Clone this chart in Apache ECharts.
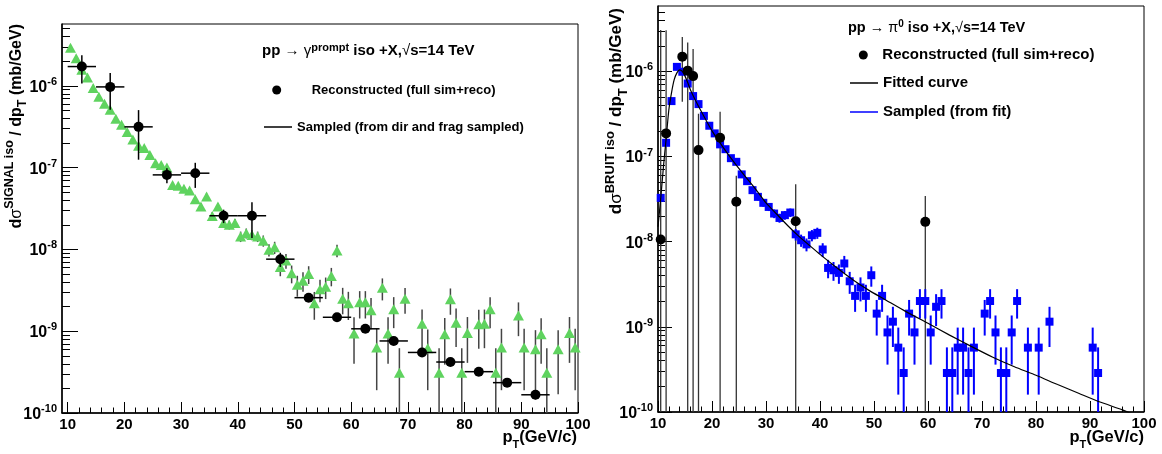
<!DOCTYPE html>
<html>
<head>
<meta charset="utf-8">
<script src="https://cdn.jsdelivr.net/npm/echarts@6/dist/echarts.min.js"></script>
<style>
html,body{margin:0;padding:0;background:#fff;}
#chart{width:1162px;height:454px;}
</style>
</head>
<body>
<div id="chart"></div>
<script>
// ---------------- DATA ----------------
// Tick labels
const xTickValues = [10, 20, 30, 40, 50, 60, 70, 80, 90, 100];
const yDecades = [-10, -9, -8, -7, -6];          // exponents of 10 shown as labels
const yMinorFactors = [2, 3, 4, 5, 6, 7, 8, 9];

// Left panel: sampled prompt photons (green triangles)
const sigPt = [10.5,11.5,12.5,13.5,14.5,15.5,16.5,17.5,18.5,19.5,20.5,21.5,22.5,23.5,24.5,25.5,26.5,27.5,28.5,29.5,
  30.5,31.5,32.5,33.5,34.5,35.5,36.5,37.5,38.5,39.5,40.5,41.5,42.5,43.5,44.5,45.5,46.5,47.5,48.5,49.5,
  50.5,51.5,52.5,53.5,54.5,55.5,56.5,57.5,58.5,59.5,60.5,61.5,62.5,63.5,64.5,65.5,66.5,67.5,68.5,69.5,
  72.5,73.5,75.5,76.5,77.5,78.5,79.5,80.5,82.5,83.5,84.5,85.5,86.5,89.5,90.5,92.5,93.5,94.5,96.5,98.5,99.5];
const sigVal = [2.93e-6,2.18e-6,1.57e-6,1.26e-6,9.4e-7,7.35e-7,6.05e-7,5.1e-7,3.95e-7,3.35e-7,2.72e-7,2.2e-7,1.85e-7,1.74e-7,1.43e-7,1.13e-7,1.08e-7,1.0e-7,6.15e-8,6.0e-8,
  5.5e-8,5.24e-8,4.11e-8,3.34e-8,4.43e-8,2.57e-8,3.34e-8,2.1e-8,2.0e-8,2.1e-8,1.44e-8,1.58e-8,1.5e-8,1.44e-8,1.28e-8,9.9e-9,1.06e-8,6.1e-9,7.3e-9,5.1e-9,
  3.7e-9,4.15e-9,5.0e-9,2.2e-9,3.26e-9,3.5e-9,4.74e-9,9.7e-9,2.5e-9,2.2e-9,9.4e-10,2.26e-9,2.26e-9,1.8e-9,6.3e-10,3.4e-9,9.4e-10,1.85e-9,3.1e-10,2.5e-9,
  1.23e-9,6.2e-10,3.1e-10,9.2e-10,2.46e-9,1.27e-9,3.1e-10,9.5e-10,1.22e-9,1.23e-9,1.85e-9,3.1e-10,6.3e-10,1.56e-9,6.3e-10,6.0e-10,9.2e-10,3.1e-10,6.0e-10,9.5e-10,6.3e-10];
const sigErr = [3.0e-8,2.6e-8,2.2e-8,1.9e-8,1.7e-8,1.5e-8,1.4e-8,1.25e-8,1.1e-8,1.0e-8,9.2e-9,8.2e-9,7.5e-9,7.3e-9,6.6e-9,5.9e-9,5.7e-9,5.5e-9,4.3e-9,4.3e-9,
  4.1e-9,4.0e-9,3.5e-9,3.2e-9,3.7e-9,2.8e-9,3.2e-9,2.5e-9,2.5e-9,2.5e-9,2.1e-9,2.2e-9,2.1e-9,2.1e-9,2.0e-9,1.7e-9,1.8e-9,1.4e-9,1.5e-9,1.25e-9,
  1.06e-9,1.12e-9,1.23e-9,8.2e-10,1.0e-9,1.03e-9,1.2e-9,1.7e-9,8.9e-10,8.3e-10,5.4e-10,8.3e-10,8.3e-10,7.4e-10,4.4e-10,1.02e-9,5.4e-10,7.6e-10,3.1e-10,8.7e-10,
  6.1e-10,4.3e-10,3.1e-10,5.3e-10,8.7e-10,6.3e-10,3.1e-10,5.4e-10,6.1e-10,6.1e-10,7.6e-10,3.1e-10,4.4e-10,6.9e-10,4.4e-10,4.3e-10,5.2e-10,3.1e-10,4.3e-10,5.4e-10,4.4e-10];

// Left panel: reconstructed (black circles, 5 GeV bins)
const sigRecoPt = [12.5,17.5,22.5,27.5,32.5,37.5,42.5,47.5,52.5,57.5,62.5,67.5,72.5,77.5,82.5,87.5,92.5];
const sigRecoVal = [1.72e-6,9.7e-7,3.15e-7,8.15e-8,8.55e-8,2.58e-8,2.58e-8,7.6e-9,2.57e-9,1.48e-9,1.07e-9,7.6e-10,5.5e-10,4.2e-10,3.2e-10,2.35e-10,1.67e-10];
const sigRecoErr = [6.5e-7,4.6e-7,1.9e-7,1.7e-8,2.9e-8,4.8e-9,1.2e-8,1.5e-9,2.5e-10,1.4e-10,1.0e-10,7e-11,5e-11,4e-11,3e-11,2.5e-11,2e-11];
const sigRecoHalfBin = [2.5,2.5,2.5,2.5,2.5,2.5,2.5,2.5,2.5,2.5,2.5,2.5,2.5,2.5,2.5,2.5,2.5];

// Right panel: sampled from fit (blue squares)
const bkgPt = [10.5,11.5,12.5,13.5,14.5,15.5,16.5,17.5,18.5,19.5,20.5,21.5,22.5,23.5,24.5,25.5,26.5,27.5,28.5,29.5,
  30.5,31.5,32.5,33.5,34.5,35.5,36.5,37.5,38.5,39.5,40.5,41.5,42.5,43.5,44.5,45.5,46.5,47.5,48.5,49.5,
  50.5,51.5,52.5,53.5,54.5,55.5,56.5,57.5,58.5,59.5,60.5,61.5,62.5,63.5,64.5,65.5,66.5,67.5,68.5,
  70.5,71.5,72.5,73.5,74.5,75.5,76.5,78.5,80.5,82.5,90.5,91.5];
const bkgVal = [3.27e-8,1.45e-7,4.48e-7,1.13e-6,9.9e-7,7.2e-7,5.13e-7,4.13e-7,3.0e-7,2.3e-7,1.87e-7,1.39e-7,1.22e-7,9.57e-8,8.67e-8,6.17e-8,5.14e-8,4.03e-8,3.36e-8,2.86e-8,
  2.56e-8,2.14e-8,1.9e-8,2.05e-8,2.2e-8,1.22e-8,1.04e-8,9.3e-9,1.19e-8,1.27e-8,8.1e-9,4.92e-9,4.62e-9,4.3e-9,5.55e-9,3.43e-9,2.31e-9,2.9e-9,2.31e-9,4.04e-9,
  1.43e-9,2.31e-9,8.6e-10,1.15e-9,5.7e-10,2.87e-10,1.43e-9,8.6e-10,2.01e-9,2.01e-9,8.6e-10,1.72e-9,2.01e-9,2.87e-10,2.87e-10,5.7e-10,5.7e-10,2.87e-10,5.7e-10,
  1.43e-9,2.01e-9,8.6e-10,2.87e-10,2.87e-10,8.6e-10,2.01e-9,5.7e-10,5.7e-10,1.15e-9,5.7e-10,2.87e-10];
const bkgErr = [3.1e-9,6.5e-9,1.1e-8,1.8e-8,1.7e-8,1.4e-8,1.2e-8,1.1e-8,9.3e-9,8.1e-9,7.3e-9,6.3e-9,5.9e-9,5.2e-9,5.0e-9,4.2e-9,3.8e-9,3.4e-9,3.1e-9,2.9e-9,
  2.7e-9,2.5e-9,2.3e-9,2.4e-9,2.5e-9,1.9e-9,1.7e-9,1.6e-9,1.8e-9,1.9e-9,1.5e-9,1.2e-9,1.15e-9,1.1e-9,1.26e-9,9.9e-10,8.1e-10,9.1e-10,8.1e-10,1.08e-9,
  6.4e-10,8.1e-10,5.0e-10,5.7e-10,4.1e-10,2.87e-10,6.4e-10,5.0e-10,7.6e-10,7.6e-10,5.0e-10,7.0e-10,7.6e-10,2.87e-10,2.87e-10,4.1e-10,4.1e-10,2.87e-10,4.1e-10,
  6.4e-10,7.6e-10,5.0e-10,2.87e-10,2.87e-10,5.0e-10,7.6e-10,4.1e-10,4.1e-10,5.7e-10,4.1e-10,2.87e-10];

// Right panel: reconstructed (black circles)
const bkgRecoPt = [10.5,11.5,14.5,15.5,16.5,17.5,21.5,24.5,35.5,59.5];
const bkgRecoVal = [1.06e-8,1.87e-7,1.49e-6,1.02e-6,8.8e-7,1.19e-7,1.66e-7,2.94e-8,1.74e-8,1.71e-8];
const bkgRecoErr = [3.05e-6,2.86e-6,1.05e-6,1.17e-6,9.5e-7,2.0e-7,1.7e-7,3.0e-8,3.0e-8,1.72e-8];

// Right panel: fitted curve
const fitPt = [10,10.5,11,11.5,12,12.5,13,13.5,14,14.5,15,15.5,16,17,18,19,20,22,24,26,28,30,32,34,36,38,40,43,46,49,52,56,60,64,68,72,76,80,84,88,92,96,98];
const fitVal = [1.5e-8,3.2e-8,7.5e-8,1.6e-7,3.5e-7,5.6e-7,8.0e-7,9.6e-7,1.04e-6,1.0e-6,8.8e-7,7.4e-7,6.1e-7,4.5e-7,3.4e-7,2.6e-7,2.0e-7,1.3e-7,8.7e-8,6.0e-8,4.2e-8,2.85e-8,2.1e-8,1.55e-8,1.17e-8,9.1e-9,7.1e-9,5.0e-9,3.6e-9,2.7e-9,2.1e-9,1.5e-9,1.1e-9,8.0e-10,5.9e-10,4.4e-10,3.4e-10,2.7e-10,2.1e-10,1.65e-10,1.3e-10,1.06e-10,9.3e-11];

// Axis ranges
const xMinL = 9, xMaxL = 100, xMinR = 10, xMaxR = 100;
const yMinV = 1e-10, yMaxL = 5.7e-6, yMaxR = 5.86e-6;

// ---------------- BUILD ----------------
const FONT = "'Liberation Sans', Arial, Helvetica, sans-serif";
const L = v => Math.log10(v);
const Y_FLOOR = -12;

function markerData(pts, vals) { return pts.map((x, i) => [x, L(vals[i])]); }
function errData(pts, vals, errs, half) {
  return pts.map((x, i) => {
    const lo = vals[i] - errs[i];
    const h = half ? half[i] : 0;
    return [x, L(vals[i]), lo > 0 ? L(lo) : Y_FLOOR, L(vals[i] + errs[i]), x - h, x + h];
  });
}
function errRender(color, width) {
  return function (params, api) {
    const x = api.value(0), y = api.value(1);
    const a = api.coord([x, api.value(2)]), b = api.coord([x, api.value(3)]);
    const children = [{ type: 'line', shape: { x1: a[0], y1: a[1], x2: b[0], y2: b[1] }, style: { stroke: color, lineWidth: width } }];
    const xl = api.value(4), xh = api.value(5);
    if (xh > xl) {
      const c = api.coord([xl, y]), d = api.coord([xh, y]);
      children.push({ type: 'line', shape: { x1: c[0], y1: c[1], x2: d[0], y2: d[1] }, style: { stroke: color, lineWidth: width } });
    }
    return { type: 'group', children };
  };
}
function minorX(majors) {
  const out = [];
  for (let i = 0; i < majors.length - 1; i++) for (let k = 2; k < 10; k += 2) out.push(majors[i] + k);
  return out;
}
function minorY(maxLog) {
  const out = [];
  yDecades.forEach(n => yMinorFactors.forEach(f => { const v = n + L(f); if (v < maxLog) out.push(v); }));
  return out;
}

const yLabelRich = (bs, ss) => ({
  b: { fontSize: bs, fontWeight: 'bold', fontFamily: FONT, color: '#000', padding: [3, 0, 0, 0] },
  s: { fontSize: ss, fontWeight: 'bold', fontFamily: FONT, color: '#000', verticalAlign: 'top' }
});

function mainX(grid, min, max) {
  return {
    type: 'value', gridIndex: grid, min, max,
    axisLine: { show: true, onZero: false, lineStyle: { color: '#000', width: 1.5 } },
    axisTick: { show: true, inside: true, length: 11, customValues: xTickValues, lineStyle: { color: '#000', width: 1 } },
    axisLabel: { show: true, customValues: xTickValues, margin: 4, fontSize: 15, fontWeight: 'bold', fontFamily: FONT, color: '#000' },
    splitLine: { show: false }
  };
}
function minorXAxis(grid, min, max) {
  return {
    type: 'value', gridIndex: grid, min, max, position: 'bottom',
    axisLine: { show: false },
    axisTick: { show: true, inside: true, length: 5.5, customValues: minorX(xTickValues), lineStyle: { color: '#000', width: 1 } },
    axisLabel: { show: false },
    splitLine: { show: false }
  };
}
function mainY(grid, maxV, majLen) {
  return {
    type: 'value', gridIndex: grid, min: L(yMinV), max: L(maxV),
    axisLine: { show: true, onZero: false, lineStyle: { color: '#000', width: 1.5 } },
    axisTick: { show: true, inside: true, length: majLen, customValues: yDecades, lineStyle: { color: '#000', width: 1 } },
    axisLabel: { show: true, customValues: yDecades, margin: 5, formatter: v => '{b|10}{s|' + Math.round(v) + '}', rich: yLabelRich(16, 11) },
    splitLine: { show: false }
  };
}
function minorYAxis(grid, maxV, len) {
  return {
    type: 'value', gridIndex: grid, min: L(yMinV), max: L(maxV), position: 'left',
    axisLine: { show: false },
    axisTick: { show: true, inside: true, length: len, customValues: minorY(L(maxV)), lineStyle: { color: '#000', width: 1 } },
    axisLabel: { show: false },
    splitLine: { show: false }
  };
}

const RECO = 'Reconstructed (full sim+reco)';
const SAMP_L = 'Sampled (from dir and frag sampled)';
const FIT = 'Fitted curve';
const SAMP_R = 'Sampled (from fit)';

function legendText(size) { return { color: '#000', fontSize: size, fontWeight: 'bold', fontFamily: FONT }; }
const headRich = (bs, ss) => ({
  b: { fontSize: bs, fontWeight: 'bold', fontFamily: FONT, color: '#000', lineHeight: 18 },
  n: { fontSize: bs, fontWeight: 'normal', fontFamily: FONT, color: '#000', lineHeight: 18 },
  sp: { fontSize: ss, fontWeight: 'bold', fontFamily: FONT, color: '#000', verticalAlign: 'top' }
});
const titleRich = (bs, ss) => ({
  m: { fontSize: bs, fontWeight: 'bold', fontFamily: FONT, fill: '#000', color: '#000', lineHeight: 26 },
  n: { fontSize: bs, fontWeight: 'normal', fontFamily: FONT, fill: '#000', color: '#000', lineHeight: 26 },
  sp: { fontSize: ss, fontWeight: 'bold', fontFamily: FONT, fill: '#000', color: '#000', verticalAlign: 'top' },
  sb: { fontSize: ss, fontWeight: 'bold', fontFamily: FONT, fill: '#000', color: '#000', verticalAlign: 'bottom' }
});

const option = {
  animation: false,
  backgroundColor: '#fff',
  grid: [
    { left: 62, top: 24, width: 516, height: 389, show: true, borderColor: '#000', borderWidth: 1, backgroundColor: 'transparent', outerBoundsMode: 'none' },
    { left: 658, top: 6, width: 486, height: 406, show: true, borderColor: '#000', borderWidth: 1, backgroundColor: 'transparent', outerBoundsMode: 'none' }
  ],
  xAxis: [mainX(0, xMinL, xMaxL), minorXAxis(0, xMinL, xMaxL), mainX(1, xMinR, xMaxR), minorXAxis(1, xMinR, xMaxR)],
  yAxis: [mainY(0, yMaxL, 16), minorYAxis(0, yMaxL, 8), mainY(1, yMaxR, 14), minorYAxis(1, yMaxR, 7)],
  title: [
    { left: 262, top: 42, padding: 0, text: '{b|pp }{n|→ γ}{sp|prompt}{b| iso +X,}{n|√}{b|s=14 TeV}', textStyle: { rich: headRich(15, 11) } },
    { left: 848, top: 19, padding: 0, text: '{b|pp }{n|→ π}{sp|0}{b| iso +X,}{n|√}{b|s=14 TeV}', textStyle: { rich: headRich(14.5, 10) } }
  ],
  legend: [
    { left: 272.2, top: 90 - 6.5, padding: 0, itemWidth: 60, itemHeight: 9, selectedMode: false, textStyle: legendText(13),
      data: [{ name: RECO, icon: 'circle', itemStyle: { color: '#000' } }] },
    { left: 264, top: 127 - 6.5, padding: 0, itemWidth: 28, itemHeight: 1.5, selectedMode: false, textStyle: legendText(13),
      data: [{ name: SAMP_L, icon: 'rect', itemStyle: { color: '#000' } }] },
    { left: 858.8, top: 55 - 7.5, padding: 0, itemWidth: 28, itemHeight: 9, selectedMode: false, textStyle: legendText(15),
      data: [{ name: RECO, icon: 'circle', itemStyle: { color: '#000' } }] },
    { left: 850, top: 83 - 7.5, padding: 0, itemWidth: 28, itemHeight: 1.5, selectedMode: false, textStyle: legendText(15),
      data: [{ name: FIT, icon: 'rect', itemStyle: { color: '#000' } }] },
    { left: 850, top: 112 - 7.5, padding: 0, itemWidth: 28, itemHeight: 1.5, selectedMode: false, textStyle: legendText(15),
      data: [{ name: SAMP_R, icon: 'rect', itemStyle: { color: '#0000ff' } }] }
  ],
  graphic: [
    { type: 'text', x: 16.5, y: 24, rotation: Math.PI / 2, silent: true,
      style: { text: '{m|d}{n|σ}{sp|SIGNAL iso}{m| / dp}{sb|T}{m| (mb/GeV)}', align: 'right', textAlign: 'right', verticalAlign: 'middle', textVerticalAlign: 'middle', rich: titleRich(16, 12.5), fill: '#000' } },
    { type: 'text', x: 616.5, y: 8, rotation: Math.PI / 2, silent: true,
      style: { text: '{m|d}{n|σ}{sp|BRUIT iso}{m| / dp}{sb|T}{m| (mb/GeV)}', align: 'right', textAlign: 'right', verticalAlign: 'middle', textVerticalAlign: 'middle', rich: titleRich(17, 13), fill: '#000' } },
    { type: 'text', x: 577, y: 424, silent: true,
      style: { text: '{m|p}{sb|T}{m|(GeV/c)}', align: 'right', textAlign: 'right', verticalAlign: 'top', textVerticalAlign: 'top', rich: titleRich(16.5, 11), fill: '#000' } },
    { type: 'text', x: 1144, y: 424, silent: true,
      style: { text: '{m|p}{sb|T}{m|(GeV/c)}', align: 'right', textAlign: 'right', verticalAlign: 'top', textVerticalAlign: 'top', rich: titleRich(16.5, 11), fill: '#000' } }
  ],
  series: [
    // ---- left panel ----
    { type: 'custom', name: 'sigErr', xAxisIndex: 0, yAxisIndex: 0, clip: true, silent: true, z: 2,
      renderItem: errRender('#444', 1.5), encode: { x: 0, y: 1 }, data: errData(sigPt, sigVal, sigErr) },
    { type: 'scatter', name: SAMP_L, xAxisIndex: 0, yAxisIndex: 0, clip: true, z: 3,
      symbol: 'triangle', symbolSize: [11, 10], itemStyle: { color: '#5fd35f', opacity: 1 }, data: markerData(sigPt, sigVal) },
    { type: 'custom', name: 'sigRecoErr', xAxisIndex: 0, yAxisIndex: 0, clip: true, silent: true, z: 4,
      renderItem: errRender('#000', 1.5), encode: { x: 0, y: 1 }, data: errData(sigRecoPt, sigRecoVal, sigRecoErr, sigRecoHalfBin) },
    { type: 'scatter', name: RECO, xAxisIndex: 0, yAxisIndex: 0, clip: true, z: 5,
      symbol: 'circle', symbolSize: 10, itemStyle: { color: '#000', opacity: 1 }, data: markerData(sigRecoPt, sigRecoVal) },
    // ---- right panel ----
    { type: 'custom', name: 'bkgRecoErr', xAxisIndex: 2, yAxisIndex: 2, clip: true, silent: true, z: 2,
      renderItem: errRender('#333', 1.3), encode: { x: 0, y: 1 }, data: errData(bkgRecoPt, bkgRecoVal, bkgRecoErr) },
    { type: 'custom', name: 'bkgErr', xAxisIndex: 2, yAxisIndex: 2, clip: true, silent: true, z: 3,
      renderItem: errRender('#0000ff', 2), encode: { x: 0, y: 1 }, data: errData(bkgPt, bkgVal, bkgErr) },
    { type: 'scatter', name: SAMP_R, xAxisIndex: 2, yAxisIndex: 2, clip: true, z: 4,
      symbol: 'rect', symbolSize: 8, itemStyle: { color: '#0000ff', opacity: 1 }, data: markerData(bkgPt, bkgVal) },
    { type: 'line', name: FIT, xAxisIndex: 2, yAxisIndex: 2, clip: true, z: 5, showSymbol: false, symbol: 'none', smooth: 0.2,
      lineStyle: { color: '#000', width: 1.2 }, itemStyle: { color: '#000' }, data: markerData(fitPt, fitVal) },
    { type: 'scatter', name: RECO, xAxisIndex: 2, yAxisIndex: 2, clip: true, z: 6,
      symbol: 'circle', symbolSize: 10, itemStyle: { color: '#000', opacity: 1 }, data: markerData(bkgRecoPt, bkgRecoVal) }
  ]
};

const chart = echarts.init(document.getElementById('chart'), null, { renderer: 'canvas' });
chart.setOption(option);
</script>
</body>
</html>
